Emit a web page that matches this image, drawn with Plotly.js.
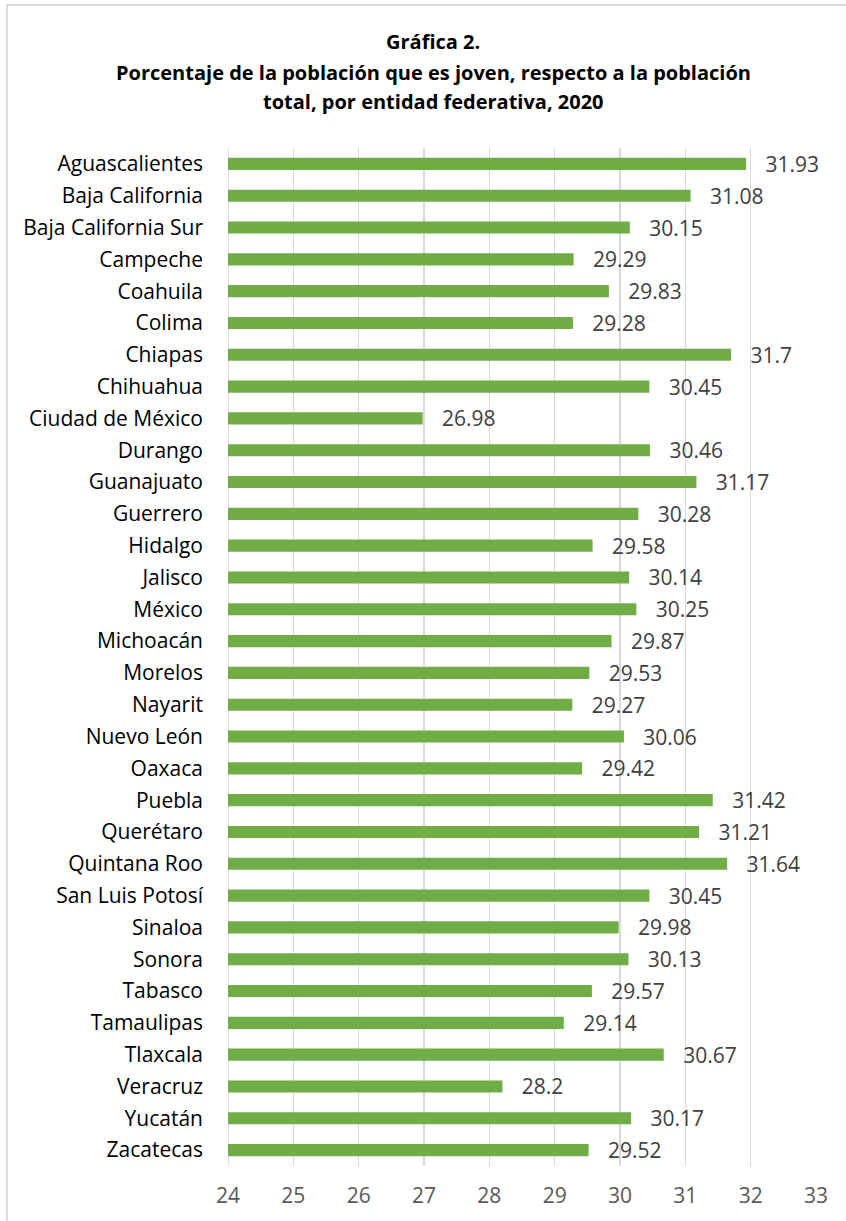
<!DOCTYPE html>
<html>
<head>
<meta charset="utf-8">
<script src="https://cdn.plot.ly/plotly-3.0.1.min.js"></script>
<style>
html,body{margin:0;padding:0;background:#fff;}
#chart{width:846px;height:1221px;}
</style>
</head>
<body>
<div id="chart"></div>
<script>
var categories = ["Aguascalientes","Baja California","Baja California Sur","Campeche","Coahuila","Colima","Chiapas","Chihuahua","Ciudad de México","Durango","Guanajuato","Guerrero","Hidalgo","Jalisco","México","Michoacán","Morelos","Nayarit","Nuevo León","Oaxaca","Puebla","Querétaro","Quintana Roo","San Luis Potosí","Sinaloa","Sonora","Tabasco","Tamaulipas","Tlaxcala","Veracruz","Yucatán","Zacatecas"];
var values = [31.93,31.08,30.15,29.29,29.83,29.28,31.7,30.45,26.98,30.46,31.17,30.28,29.58,30.14,30.25,29.87,29.53,29.27,30.06,29.42,31.42,31.21,31.64,30.45,29.98,30.13,29.57,29.14,30.67,28.2,30.17,29.52];
var titleLines = ["Gráfica 2.", "Porcentaje de la población que es joven, respecto a la población", "total, por entidad federativa, 2020"];
var tickVals = [24,25,26,27,28,29,30,31,32,33];

var font = "'Open Sans', sans-serif";
var labels = values.map(function(v){return '\u00a0\u00a0\u00a0' + String(v);});

var trace = {
  type: 'bar',
  orientation: 'h',
  y: categories,
  x: values,
  text: labels,
  textposition: 'outside',
  constraintext: 'none',
  cliponaxis: false,
  textfont: {family: font, size: 21, color: '#404040'},
  marker: {color: '#70AD47'},
  hoverinfo: 'skip'
};

var titleY = [42, 72, 101];
var annotations = titleLines.map(function(t, i){
  return {
    text: '<b>' + t + '</b>', showarrow: false,
    xref: 'paper', yref: 'paper',
    x: (433 - 228) / 588, xanchor: 'center',
    y: 1 + (148 - titleY[i]) / 1018, yanchor: 'middle',
    font: {family: font, size: 20, color: '#000'}
  };
});

var layout = {
  width: 846, height: 1221,
  margin: {l: 228, r: 30, t: 148, b: 55},
  paper_bgcolor: '#fff', plot_bgcolor: '#fff',
  showlegend: false,
  bargap: 0.62,
  annotations: annotations,
  xaxis: {
    range: [24, 33],
    tickvals: tickVals,
    showgrid: true, gridcolor: '#d9d9d9', gridwidth: 1.5,
    zeroline: false, showline: false, ticks: '',
    tickfont: {family: font, size: 21, color: '#595959'},
    ticklabelstandoff: 15
  },
  yaxis: {
    autorange: 'reversed',
    showgrid: false, zeroline: false, showline: false, ticks: '',
    tickfont: {family: font, size: 21, color: '#000'},
    ticklabelstandoff: 24
  },
  shapes: [{
    type: 'rect', xref: 'paper', yref: 'paper',
    x0: -0.376, x1: 1.2, y0: -0.1, y1: 1.1405,
    line: {color: '#d9d9d9', width: 2}, fillcolor: 'rgba(0,0,0,0)', layer: 'below'
  }, {
    type: 'line', xref: 'x', yref: 'paper', x0: 24, x1: 24, y0: 0, y1: 1,
    line: {color: '#d9d9d9', width: 1.5}, layer: 'below'
  }]
};

Plotly.newPlot('chart', [trace], layout, {displayModeBar: false, staticPlot: true});
</script>
</body>
</html>
